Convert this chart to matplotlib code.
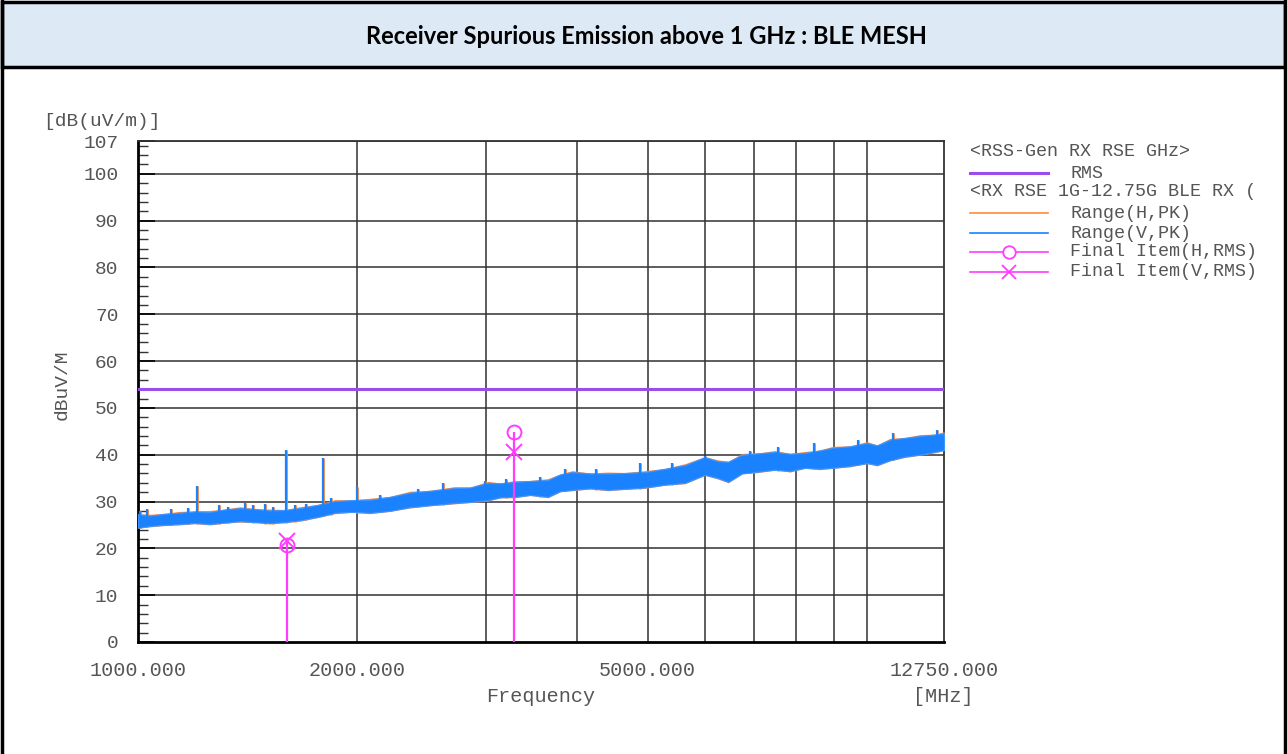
import numpy as np
import matplotlib.pyplot as plt
from matplotlib.patches import Rectangle
from matplotlib.lines import Line2D
from matplotlib.ticker import FixedLocator, MultipleLocator, NullFormatter

# Frequency grid of the peak trace envelope (MHz)
freq = [1000, 1040, 1089, 1140, 1197, 1255, 1315, 1380, 1447, 1517, 1590,
        1668, 1765, 1863, 1965, 2080, 2215, 2360, 2515, 2720, 2855, 3020,
        3140, 3290, 3450, 3650, 3795, 3940, 4170, 4410, 4655, 4960, 5285,
        5630, 5990, 6245, 6450, 6740, 7100, 7480, 7840, 8220, 8600, 8980,
        9475, 10000, 10320, 10750, 11270, 11810, 12380, 12750]

# Vertical polarisation, peak detector: floor and top of the noise band
v_low = [24.4, 24.8, 25.0, 25.2, 25.4, 25.2, 25.5, 25.8, 25.6, 25.4, 25.6,
         26.0, 26.7, 27.6, 27.8, 27.6, 28.0, 28.8, 29.2, 29.7, 29.9, 30.3,
         30.9, 31.0, 31.4, 31.0, 32.2, 32.5, 32.8, 32.5, 32.7, 33.0, 33.6,
         34.0, 35.7, 35.0, 34.2, 36.0, 36.4, 36.8, 36.5, 37.2, 37.0, 37.2,
         37.6, 38.2, 37.8, 38.8, 39.6, 40.0, 40.6, 41.0]
v_high = [27.3, 27.0, 27.4, 27.6, 27.9, 27.8, 28.3, 28.6, 28.4, 28.1, 28.2,
          28.6, 29.3, 30.1, 30.3, 30.4, 31.0, 31.9, 32.3, 32.9, 33.0, 34.0,
          33.9, 34.2, 34.4, 34.6, 35.8, 36.3, 36.0, 36.0, 36.1, 36.3, 37.0,
          37.8, 39.5, 38.6, 38.5, 40.0, 40.3, 40.6, 40.2, 40.4, 40.9, 41.5,
          41.8, 42.5, 42.0, 43.2, 43.6, 44.0, 44.3, 44.6]

# Horizontal polarisation, peak detector
h_low = [24.3, 24.6, 24.9, 25.0, 25.3, 25.0, 25.4, 25.6, 25.5, 25.2, 25.5,
         25.8, 26.6, 27.4, 27.7, 27.4, 27.9, 28.6, 29.1, 29.5, 29.8, 30.1,
         30.8, 30.8, 31.3, 30.8, 32.1, 32.3, 32.7, 32.3, 32.6, 32.8, 33.5,
         33.8, 35.6, 34.8, 34.0, 35.9, 36.2, 36.7, 36.3, 37.1, 36.8, 37.1,
         37.4, 38.1, 37.6, 38.7, 39.4, 39.9, 40.4, 40.9]
h_high = [27.4, 27.3, 27.5, 27.9, 28.0, 28.1, 28.4, 28.9, 28.5, 28.4, 28.3,
          28.9, 29.4, 30.4, 30.4, 30.7, 31.1, 32.2, 32.4, 33.2, 33.1, 34.3,
          34.0, 34.5, 34.5, 34.9, 35.9, 36.6, 36.1, 36.3, 36.2, 36.6, 37.1,
          38.1, 39.6, 38.9, 38.6, 40.3, 40.4, 40.9, 40.3, 40.7, 41.0, 41.8,
          41.9, 42.8, 42.1, 43.5, 43.7, 44.3, 44.4, 44.9]

# Narrow peaks standing above the noise band
spike_freq = [1005, 1030, 1110, 1170, 1205, 1290, 1330, 1400, 1440, 1495,
              1530, 1595, 1640, 1700, 1795, 1840, 1997, 2150, 2420, 2620,
              2990, 3200, 3560, 3850, 4250, 4880, 5400, 5990, 6900, 7550,
              8470, 9720, 10850, 12490]
spike_level = [28.0, 28.3, 28.3, 28.6, 33.3, 29.2, 28.9, 29.7, 29.3, 29.4,
               28.9, 41.0, 29.2, 29.4, 39.3, 30.8, 33.0, 31.4, 32.6, 34.0,
               34.4, 34.8, 35.2, 36.9, 37.0, 38.2, 38.3, 39.8, 40.8, 41.7,
               42.5, 43.2, 44.6, 45.3]

# Limit line and final measurement items
limit_rms = 54.0
final_freq = [1601, 3280]
final_h = [20.7, 44.9]
final_v = [21.6, 40.6]

x_tick_values = [1000, 2000, 5000, 12750]
x_grid_values = [2000, 3000, 4000, 5000, 6000, 7000, 8000, 9000, 10000]
y_tick_values = [0, 10, 20, 30, 40, 50, 60, 70, 80, 90, 100, 107]

mono = 'Liberation Mono'
txt_col = '#555555'
c_h = '#ff8a3d'
c_v = '#1a82ff'
c_lim = '#9b4dea'
c_fin = '#ff3cff'

W, H = 1287, 754
fig = plt.figure(figsize=(W / 100, H / 100), dpi=100)


def px_axes(x0, y0, x1, y1):
    return fig.add_axes([x0 / W, 1 - y1 / H, (x1 - x0) / W, (y1 - y0) / H])


# page frame and title bar
fig.patches.append(Rectangle((1.5 / W, 1 - 67 / H), (W - 4) / W, 65.5 / H,
                             transform=fig.transFigure, facecolor='#dee9f6',
                             edgecolor='black', lw=2.5))
fig.add_artist(Line2D([1.5 / W, 1.5 / W], [0, 1], color='black', lw=2.5))
fig.add_artist(Line2D([(W - 2.5) / W, (W - 2.5) / W], [0, 1], color='black', lw=2.5))
fig.text(646 / W, 1 - 36 / H, 'Receiver Spurious Emission above 1 GHz : BLE MESH',
         ha='center', va='center', fontsize=17, fontweight='bold', family='Lato')

ax = px_axes(138, 141, 944, 642)
ax.set_xscale('log')
ax.set_xlim(1000, 12750)
ax.set_ylim(0, 107)

ax.fill_between(freq, h_low, h_high, color=c_h, lw=0, zorder=3)
ax.vlines(spike_freq, np.interp(spike_freq, freq, h_low), spike_level,
          color=c_h, lw=2.0, zorder=3)
ax.fill_between(freq, v_low, v_high, facecolor=c_v, edgecolor='#3d95ff',
                lw=0.8, zorder=4)
ax.vlines(spike_freq, np.interp(spike_freq, freq, v_low), spike_level,
          color=c_v, lw=1.6, zorder=4)

ax.axhline(limit_rms, color=c_lim, lw=2.2, zorder=5)

ax.vlines(final_freq, 0, np.maximum(final_h, final_v), color=c_fin, lw=1.6, zorder=6)
ax.plot(final_freq, final_h, 'o', ms=10, mfc='none', mec=c_fin, mew=1.4, zorder=7)
ax.plot(final_freq, final_v, 'x', ms=11, mec=c_fin, mew=1.4, zorder=7)

# grid
for yv in y_tick_values[1:]:
    ax.axhline(yv, color='#333333', lw=1.3, alpha=0.85, zorder=1)
for xv in x_grid_values:
    ax.axvline(xv, color='#333333', lw=1.3, alpha=0.85, zorder=1)

ax.xaxis.set_major_locator(FixedLocator(x_tick_values))
ax.xaxis.set_minor_locator(FixedLocator([]))
ax.xaxis.set_minor_formatter(NullFormatter())
ax.set_xticklabels(['%.3f' % v for v in x_tick_values])
ax.tick_params(axis='x', length=0, pad=14, labelsize=14.5, labelcolor=txt_col)
ax.yaxis.set_major_locator(FixedLocator(y_tick_values))
ax.yaxis.set_minor_locator(MultipleLocator(2))
ax.tick_params(axis='y', which='major', direction='in', length=12, width=1.2,
               pad=14, labelsize=14, labelcolor=txt_col)
ax.tick_params(axis='y', which='minor', direction='in', length=7, width=1.0,
               color='#333333')
for lab in ax.get_xticklabels() + ax.get_yticklabels():
    lab.set_family(mono)

for side in ['left', 'bottom']:
    ax.spines[side].set_linewidth(2.0)
for side in ['top', 'right']:
    ax.spines[side].set_linewidth(1.3)
    ax.spines[side].set_color('#333333')

fig.text(102 / W, 1 - 121 / H, '[dB(uV/m)]', ha='center', va='center',
         family=mono, fontsize=14, color=txt_col)
fig.text(62 / W, 1 - 385 / H, 'dBuV/M', ha='center', va='center', rotation=90,
         family=mono, fontsize=14, color=txt_col)
fig.text(541 / W, 1 - 697 / H, 'Frequency', ha='center', va='center',
         family=mono, fontsize=14.5, color=txt_col)
fig.text(943 / W, 1 - 697 / H, '[MHz]', ha='center', va='center',
         family=mono, fontsize=14.5, color=txt_col)

# legend block, drawn in pixel coordinates
lg = px_axes(960, 140, 1252, 285)
lg.set_xlim(960, 1252)
lg.set_ylim(285, 140)
lg.axis('off')
rows = [
    ('<RSS-Gen RX RSE GHz>', None, None),
    ('RMS', c_lim, None),
    ('<RX RSE 1G-12.75G BLE RX (', None, None),
    ('Range(H,PK)', c_h, None),
    ('Range(V,PK)', c_v, None),
    ('Final Item(H,RMS)', c_fin, 'o'),
    ('Final Item(V,RMS)', c_fin, 'x'),
]
row_y = [152, 173, 192, 213, 233, 252, 272]
for (label, col, mk), yy in zip(rows, row_y):
    if col is None:
        lg.text(970, yy, label, va='center', ha='left', family=mono,
                fontsize=13.2, color=txt_col)
        continue
    lg.plot([970, 1048], [yy, yy], color=col,
            lw=2.2 if col == c_lim else 1.2, clip_on=False)
    if mk == 'o':
        lg.plot([1009], [yy], 'o', ms=9, mfc='white', mec=col, mew=1.3)
    elif mk == 'x':
        lg.plot([1009], [yy], 'x', ms=10, mec=col, mew=1.3)
    lg.text(1070, yy, label, va='center', ha='left', family=mono,
            fontsize=13.2, color=txt_col)

fig.savefig('out.png', dpi=100)
